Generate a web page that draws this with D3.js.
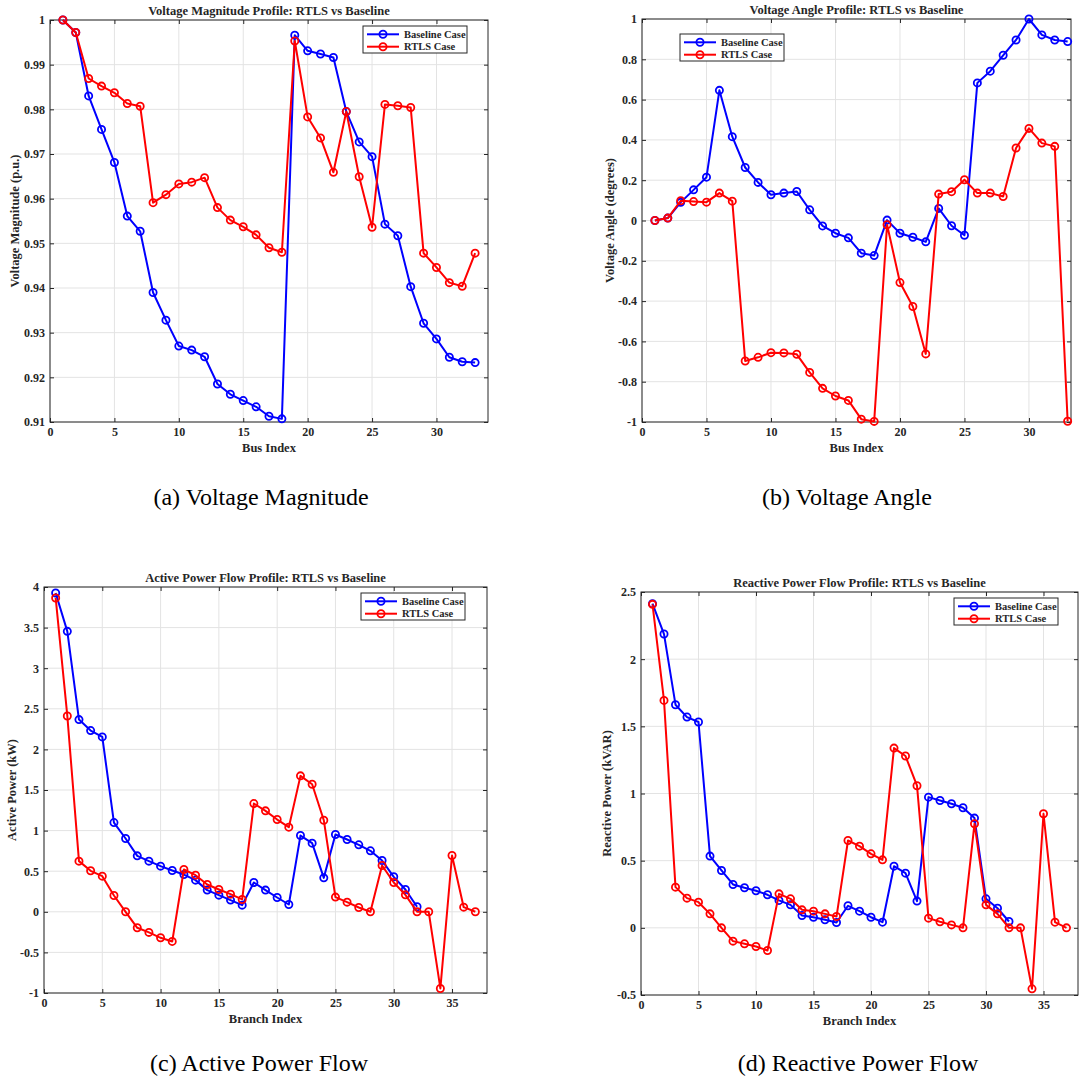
<!DOCTYPE html>
<html>
<head>
<meta charset="utf-8">
<script src="https://cdn.jsdelivr.net/npm/d3@7/dist/d3.min.js"></script>
<style>
  body { margin: 0; background: #fff; }
  svg text { font-family: "Liberation Serif", "Times New Roman", serif; fill: #262626; }
</style>
</head>
<body>
<script>
// bus and branch numbers
var busIndex = [1, 2, 3, 4, 5, 6, 7, 8, 9, 10, 11, 12, 13, 14, 15, 16, 17,
  18, 19, 20, 21, 22, 23, 24, 25, 26, 27, 28, 29, 30, 31, 32, 33];
var branchIndex = [1, 2, 3, 4, 5, 6, 7, 8, 9, 10, 11, 12, 13, 14, 15, 16, 17,
  18, 19, 20, 21, 22, 23, 24, 25, 26, 27, 28, 29, 30, 31, 32, 33, 34, 35, 36, 37];

// (a) voltage magnitude, p.u.
var vmagBaseline = [1.0, 0.9972, 0.9830, 0.9755, 0.9681, 0.9561, 0.9527, 0.9390,
  0.9328, 0.9270, 0.9261, 0.9246, 0.9185, 0.9162, 0.9148, 0.9134, 0.9113, 0.9107,
  0.9966, 0.9931, 0.9924, 0.9916, 0.9795, 0.9727, 0.9694, 0.9543, 0.9517, 0.9403,
  0.9321, 0.9286, 0.9245, 0.9235, 0.9233];
var vmagRtls = [1.0, 0.9972, 0.9869, 0.9852, 0.9837, 0.9813, 0.9807, 0.9591,
  0.9609, 0.9633, 0.9637, 0.9647, 0.9580, 0.9552, 0.9537, 0.9519, 0.9490, 0.9480,
  0.9953, 0.9783, 0.9736, 0.9659, 0.9795, 0.9649, 0.9536, 0.9811, 0.9808, 0.9804,
  0.9478, 0.9446, 0.9412, 0.9404, 0.9478];

// (b) voltage angle, degrees
var vangBaseline = [0, 0.012, 0.09, 0.152, 0.215, 0.646, 0.416, 0.263, 0.189,
  0.128, 0.136, 0.144, 0.053, -0.027, -0.063, -0.086, -0.162, -0.174, 0.002,
  -0.063, -0.083, -0.106, 0.06, -0.026, -0.073, 0.683, 0.741, 0.82, 0.896, 1.0,
  0.921, 0.896, 0.888];
var vangRtls = [0, 0.012, 0.098, 0.094, 0.091, 0.136, 0.096, -0.697, -0.679,
  -0.656, -0.657, -0.664, -0.754, -0.833, -0.871, -0.893, -0.986, -0.997, -0.021,
  -0.308, -0.427, -0.662, 0.131, 0.143, 0.202, 0.136, 0.136, 0.119, 0.36, 0.457,
  0.384, 0.368, -0.996];

// (c) active power flow, kW
var pBaseline = [3.926, 3.454, 2.367, 2.232, 2.154, 1.099, 0.903, 0.689, 0.624,
  0.562, 0.509, 0.459, 0.39, 0.267, 0.205, 0.144, 0.082, 0.361, 0.267, 0.176,
  0.09, 0.939, 0.845, 0.418, 0.952, 0.89, 0.825, 0.751, 0.632, 0.431, 0.275, 0.062];
var pRtls = [3.865, 2.412, 0.624, 0.505, 0.439, 0.201, 0, -0.197, -0.254, -0.32,
  -0.365, 0.521, 0.451, 0.336, 0.275, 0.217, 0.152, 1.333, 1.243, 1.136, 1.042,
  1.674, 1.571, 1.128, 0.181, 0.119, 0.053, 0, 0.57, 0.361, 0.209, 0, 0, -0.944,
  0.693, 0.057, 0];

// (d) reactive power flow, kVAR
var qBaseline = [2.413, 2.187, 1.661, 1.569, 1.532, 0.534, 0.427, 0.323, 0.298,
  0.276, 0.246, 0.204, 0.171, 0.092, 0.079, 0.06, 0.04, 0.164, 0.124, 0.079,
  0.042, 0.459, 0.407, 0.199, 0.973, 0.948, 0.924, 0.894, 0.817, 0.216, 0.146, 0.047];
var qRtls = [2.408, 1.693, 0.303, 0.221, 0.191, 0.104, 0, -0.099, -0.119, -0.139,
  -0.169, 0.253, 0.216, 0.134, 0.124, 0.104, 0.084, 0.65, 0.608, 0.551, 0.506,
  1.338, 1.279, 1.058, 0.072, 0.045, 0.022, 0, 0.775, 0.171, 0.104, 0, 0, -0.454,
  0.849, 0.042, 0];

// tick values
var xTicksBus = [0, 5, 10, 15, 20, 25, 30];
var xTicksBranch = [0, 5, 10, 15, 20, 25, 30, 35];
var yTicksMag = [0.91, 0.92, 0.93, 0.94, 0.95, 0.96, 0.97, 0.98, 0.99, 1];
var yTicksAng = [-1, -0.8, -0.6, -0.4, -0.2, 0, 0.2, 0.4, 0.6, 0.8, 1];
var yTicksP = [-1, -0.5, 0, 0.5, 1, 1.5, 2, 2.5, 3, 3.5, 4];
var yTicksQ = [-0.5, 0, 0.5, 1, 1.5, 2, 2.5];

var seriesNames = ["Baseline Case", "RTLS Case"];
var seriesColors = ["#0000ff", "#ff0000"];

var svg = d3.select("body").append("svg")
  .attr("width", 1086)
  .attr("height", 1086);

var panels = [
  {
    title: "Voltage Magnitude Profile: RTLS vs Baseline",
    xLabel: "Bus Index", yLabel: "Voltage Magnitude (p.u.)",
    caption: "(a) Voltage Magnitude", capX: 261, capY: 505,
    box: { left: 50, top: 20, right: 488, bottom: 422 },
    xDomain: [0, 34], yDomain: [0.91, 1],
    xTicks: xTicksBus, yTicks: yTicksMag,
    x: busIndex, series: [vmagBaseline, vmagRtls],
    legend: { x: 363, y: 26 }, yLabelX: 15
  },
  {
    title: "Voltage Angle Profile: RTLS vs Baseline",
    xLabel: "Bus Index", yLabel: "Voltage Angle (degrees)",
    caption: "(b) Voltage Angle", capX: 847, capY: 505,
    box: { left: 642, top: 19, right: 1071, bottom: 422 },
    xDomain: [0, 33.26], yDomain: [-1, 1],
    xTicks: xTicksBus, yTicks: yTicksAng,
    x: busIndex, series: [vangBaseline, vangRtls],
    legend: { x: 680, y: 34 }, yLabelX: 610
  },
  {
    title: "Active Power Flow Profile: RTLS vs Baseline",
    xLabel: "Branch Index", yLabel: "Active Power (kW)",
    caption: "(c) Active Power Flow", capX: 259, capY: 1071,
    box: { left: 44, top: 587, right: 487, bottom: 993 },
    xDomain: [0, 38], yDomain: [-1, 4],
    xTicks: xTicksBranch, yTicks: yTicksP,
    x: branchIndex, series: [pBaseline, pRtls],
    legend: { x: 361, y: 593 }, yLabelX: 12
  },
  {
    title: "Reactive Power Flow Profile: RTLS vs Baseline",
    xLabel: "Branch Index", yLabel: "Reactive Power (kVAR)",
    caption: "(d) Reactive Power Flow", capX: 858, capY: 1071,
    box: { left: 641, top: 592, right: 1078, bottom: 995 },
    xDomain: [0, 38], yDomain: [-0.5, 2.5],
    xTicks: xTicksBranch, yTicks: yTicksQ,
    x: branchIndex, series: [qBaseline, qRtls],
    legend: { x: 954, y: 598 }, yLabelX: 607
  }
];

var tickFmt = function (d) { return String(+d.toFixed(2)); };

panels.forEach(function (p) {
  var b = p.box;
  var x = d3.scaleLinear().domain(p.xDomain).range([b.left, b.right]);
  var y = d3.scaleLinear().domain(p.yDomain).range([b.bottom, b.top]);
  var g = svg.append("g");

  // grid
  g.append("g").selectAll("line")
    .data(p.xTicks)
    .enter().append("line")
    .attr("x1", function (d) { return x(d); })
    .attr("x2", function (d) { return x(d); })
    .attr("y1", b.top).attr("y2", b.bottom)
    .attr("stroke", "#e3e3e3").attr("stroke-width", 1);
  g.append("g").selectAll("line")
    .data(p.yTicks)
    .enter().append("line")
    .attr("x1", b.left).attr("x2", b.right)
    .attr("y1", function (d) { return y(d); })
    .attr("y2", function (d) { return y(d); })
    .attr("stroke", "#e3e3e3").attr("stroke-width", 1);

  // axes, ticks pointing inside on all four sides
  var bottom = g.append("g")
    .attr("transform", "translate(0," + b.bottom + ")")
    .call(d3.axisBottom(x).tickValues(p.xTicks).tickFormat(tickFmt)
      .tickSize(-4).tickPadding(5));
  var left = g.append("g")
    .attr("transform", "translate(" + b.left + ",0)")
    .call(d3.axisLeft(y).tickValues(p.yTicks).tickFormat(tickFmt)
      .tickSize(-4).tickPadding(5));
  var top = g.append("g")
    .attr("transform", "translate(0," + b.top + ")")
    .call(d3.axisTop(x).tickValues(p.xTicks).tickFormat("").tickSize(-4));
  var right = g.append("g")
    .attr("transform", "translate(" + b.right + ",0)")
    .call(d3.axisRight(y).tickValues(p.yTicks).tickFormat("").tickSize(-4));
  [bottom, left, top, right].forEach(function (a) {
    a.select(".domain").remove();
    a.selectAll(".tick line").attr("stroke", "#262626");
    a.selectAll("text")
      .style("font-size", "12px")
      .style("font-weight", "bold")
      .style("font-family", "'Liberation Serif', serif")
      .attr("fill", "#262626");
  });

  g.append("rect")
    .attr("x", b.left).attr("y", b.top)
    .attr("width", b.right - b.left).attr("height", b.bottom - b.top)
    .attr("fill", "none").attr("stroke", "#262626").attr("stroke-width", 1);

  // series
  p.series.forEach(function (vals, k) {
    var pts = vals.map(function (v, i) { return [p.x[i], v]; });
    g.append("path")
      .datum(pts)
      .attr("fill", "none")
      .attr("stroke", seriesColors[k])
      .attr("stroke-width", 2)
      .attr("stroke-linejoin", "round")
      .attr("d", d3.line()
        .x(function (d) { return x(d[0]); })
        .y(function (d) { return y(d[1]); }));
    g.append("g").selectAll("circle")
      .data(pts)
      .enter().append("circle")
      .attr("cx", function (d) { return x(d[0]); })
      .attr("cy", function (d) { return y(d[1]); })
      .attr("r", 3.6)
      .attr("fill", "none")
      .attr("stroke", seriesColors[k])
      .attr("stroke-width", 1.8);
  });

  // title and labels
  var cx = (b.left + b.right) / 2;
  g.append("text")
    .attr("x", cx).attr("y", b.top - 5)
    .attr("text-anchor", "middle")
    .style("font-size", "12.5px").style("font-weight", "bold")
    .text(p.title);
  g.append("text")
    .attr("x", cx).attr("y", b.bottom + 30)
    .attr("text-anchor", "middle")
    .style("font-size", "12.5px").style("font-weight", "bold")
    .text(p.xLabel);
  g.append("text")
    .attr("transform", "translate(" + (p.yLabelX + 4) + "," + (b.top + b.bottom) / 2 + ") rotate(-90)")
    .attr("text-anchor", "middle")
    .style("font-size", "12.5px").style("font-weight", "bold")
    .text(p.yLabel);

  // legend
  var lg = g.append("g").attr("transform", "translate(" + p.legend.x + "," + p.legend.y + ")");
  lg.append("rect")
    .attr("width", 104).attr("height", 27)
    .attr("fill", "#fff").attr("stroke", "#262626").attr("stroke-width", 1);
  seriesNames.forEach(function (name, k) {
    var ry = 8.3 + k * 12.4;
    lg.append("line")
      .attr("x1", 4).attr("x2", 36).attr("y1", ry).attr("y2", ry)
      .attr("stroke", seriesColors[k]).attr("stroke-width", 2);
    lg.append("circle")
      .attr("cx", 20).attr("cy", ry).attr("r", 3.6)
      .attr("fill", "none").attr("stroke", seriesColors[k]).attr("stroke-width", 1.8);
    lg.append("text")
      .attr("x", 41).attr("y", ry + 3.5)
      .style("font-size", "10.5px").style("font-weight", "bold")
      .text(name);
  });

  // sub-figure caption
  svg.append("text")
    .attr("x", p.capX).attr("y", p.capY)
    .attr("text-anchor", "middle")
    .style("font-size", "24px")
    .style("fill", "#000")
    .text(p.caption);
});
</script>
</body>
</html>
